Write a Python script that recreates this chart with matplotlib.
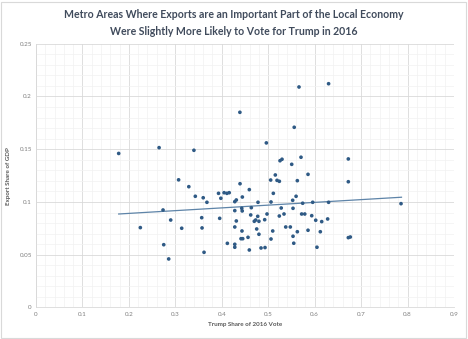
import matplotlib
matplotlib.use("Agg")
import matplotlib.pyplot as plt
from matplotlib.patches import Rectangle
from matplotlib.ticker import MultipleLocator

trump_share = [
    0.178, 0.265, 0.340, 0.307, 0.329, 0.343, 0.360, 0.368, 0.393, 0.398,
    0.405, 0.411, 0.416, 0.2735, 0.290, 0.2246, 0.3137, 0.3568, 0.3575, 0.3955,
    0.275, 0.412, 0.3618, 0.2857,
    0.5663, 0.630, 0.439, 0.556, 0.786, 0.6768,
    0.496, 0.5254, 0.5297, 0.5706, 0.5506, 0.6725, 0.5153, 0.5053, 0.519, 0.524,
    0.5627, 0.5857, 0.6725, 0.4393, 0.4593, 0.511, 0.560, 0.428, 0.4313, 0.4443,
    0.478, 0.506, 0.5527, 0.5742, 0.5958, 0.630, 0.428, 0.443, 0.444, 0.4636,
    0.528, 0.5534, 0.4623, 0.4774, 0.4974, 0.5239, 0.534, 0.572, 0.5787, 0.5937,
    0.4313, 0.470, 0.473, 0.480, 0.4924, 0.6023, 0.6152, 0.628, 0.428, 0.4752,
    0.5097, 0.5377, 0.5476, 0.5627, 0.5857, 0.6122, 0.4435, 0.480, 0.4414, 0.4451,
    0.4565, 0.506, 0.5534, 0.6725, 0.428, 0.428, 0.4593, 0.4845, 0.4931, 0.555,
    0.605,
]
export_share = [
    0.146, 0.1515, 0.149, 0.121, 0.1145, 0.1054, 0.104, 0.0997, 0.1082, 0.1035,
    0.1088, 0.1082, 0.1088, 0.0924, 0.0829, 0.0757, 0.0751, 0.0851, 0.0754, 0.0845,
    0.0595, 0.0608, 0.0523, 0.046,
    0.209, 0.2121, 0.185, 0.1708, 0.0984, 0.0668,
    0.156, 0.1391, 0.1405, 0.1424, 0.1357, 0.1408, 0.1256, 0.1208, 0.1205, 0.1196,
    0.1202, 0.1262, 0.1192, 0.1173, 0.1117, 0.1082, 0.1054, 0.1003, 0.1019, 0.1047,
    0.0997, 0.1000, 0.1016, 0.0988, 0.0997, 0.0997, 0.0918, 0.094, 0.0915, 0.0946,
    0.0943, 0.094, 0.0877, 0.0864, 0.0886, 0.0867, 0.0886, 0.0886, 0.0886, 0.087,
    0.082, 0.0817, 0.0829, 0.0817, 0.0832, 0.0827, 0.0814, 0.0839, 0.0763, 0.0744,
    0.0725, 0.0763, 0.0763, 0.0718, 0.0732, 0.0718, 0.0725, 0.0694, 0.0652, 0.0652,
    0.0665, 0.0649, 0.0675, 0.0662, 0.0599, 0.0571, 0.0545, 0.0564, 0.0568, 0.0609,
    0.0571,
]
trend_x = [0.178, 0.787]
trend_y = [0.0886, 0.1045]

x_ticks = [0, 0.1, 0.2, 0.3, 0.4, 0.5, 0.6, 0.7, 0.8, 0.9]
x_tick_labels = ["0", "0.1", "0.2", "0.3", "0.4", "0.5", "0.6", "0.7", "0.8", "0.9"]
y_ticks = [0, 0.05, 0.1, 0.15, 0.2, 0.25]
y_tick_labels = ["0", "0.05", "0.1", "0.15", "0.2", "0.25"]

title = ("Metro Areas Where Exports are an Important Part of the Local Economy\n"
         "Were Slightly More Likely to Vote for Trump in 2016")

plt.rcParams['font.family'] = ['Lato', 'DejaVu Sans']

fig = plt.figure(figsize=(4.68, 3.39), dpi=100)
fig.patch.set_facecolor("white")
fig.patches.append(Rectangle((0.002, 0.003), 0.994, 0.992, transform=fig.transFigure,
                             fill=False, edgecolor="#D9D9D9", linewidth=0.8))

ax = fig.add_axes([0.077, 0.093, 0.893, 0.778])
ax.set_xlim(0, 0.9)
ax.set_ylim(0, 0.25)

ax.xaxis.set_minor_locator(MultipleLocator(0.02))
ax.yaxis.set_minor_locator(MultipleLocator(0.01))
ax.grid(which="major", color="#D9D9D9", linewidth=0.6)
ax.grid(which="minor", color="#F2F2F2", linewidth=0.5)
ax.set_axisbelow(True)

ax.scatter(trump_share, export_share, s=7, color="#2F5A85", edgecolors="none", zorder=3)
ax.plot(trend_x, trend_y, color="#5E84A8", linewidth=0.9, zorder=2)

ax.set_xticks(x_ticks)
ax.set_xticklabels(x_tick_labels)
ax.set_yticks(y_ticks)
ax.set_yticklabels(y_tick_labels)
ax.tick_params(which="both", length=0, labelsize=4.5, labelcolor="#7F7F7F", pad=3)

for s in ["top", "right"]:
    ax.spines[s].set_visible(False)
for s in ["left", "bottom"]:
    ax.spines[s].set_color("#D9D9D9")
    ax.spines[s].set_linewidth(0.6)

ax.set_xlabel("Trump Share of 2016 Vote", fontsize=4.5, fontweight="bold",
              color="#595959", labelpad=4)
ax.set_ylabel("Export Share of GDP", fontsize=4.5, fontweight="bold",
              color="#595959", labelpad=6)

fig.text(0.5, 0.972, title, ha="center", va="top", fontsize=7.6, fontweight="bold",
         color="#404B5C", linespacing=1.6)

fig.savefig("out.png", dpi=100)
